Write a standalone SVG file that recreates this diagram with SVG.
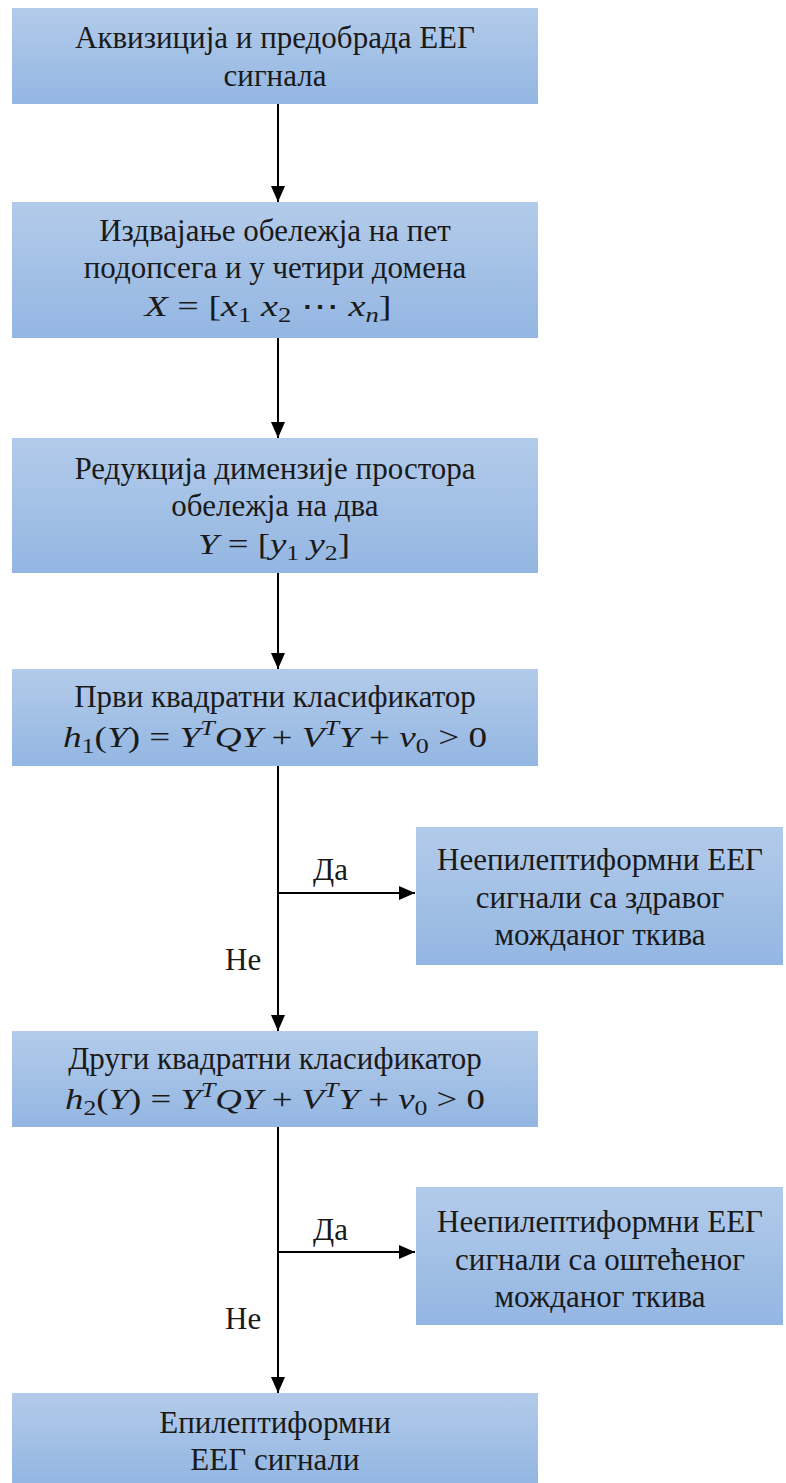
<svg xmlns="http://www.w3.org/2000/svg" width="786" height="1483" viewBox="0 0 786 1483">
<defs>
<linearGradient id="g" x1="0" y1="0" x2="0" y2="1">
<stop offset="0" stop-color="#b3cbea"/>
<stop offset="1" stop-color="#93b6e2"/>
</linearGradient>
<marker id="ah" viewBox="0 0 16 14" refX="16" refY="7" markerWidth="16" markerHeight="14" markerUnits="userSpaceOnUse" orient="auto">
<path d="M0,0 L16,7 L0,14 z" fill="#000"/>
</marker>
<style>
.nodebox{fill:url(#g);}
.nodetext{font-size:31px;fill:#1a1a1a;text-anchor:middle;}
.mathtext{font-size:30px;fill:#1a1a1a;text-anchor:middle;}
.ital{font-style:italic;}
.subsc{font-size:21px;}
.edgelabel{font-size:31px;fill:#1a1a1a;}
.edgeline{stroke:#000;stroke-width:2;fill:none;}
</style>
</defs>
<g id="connectors">
<line class="edgeline" x1="278" y1="104" x2="278" y2="202" marker-end="url(#ah)"/>
<line class="edgeline" x1="278" y1="338" x2="278" y2="438" marker-end="url(#ah)"/>
<line class="edgeline" x1="278" y1="573" x2="278" y2="669" marker-end="url(#ah)"/>
<line class="edgeline" x1="278" y1="766" x2="278" y2="1031" marker-end="url(#ah)"/>
<line class="edgeline" x1="278" y1="893" x2="415" y2="893" marker-end="url(#ah)"/>
<line class="edgeline" x1="278" y1="1127" x2="278" y2="1393" marker-end="url(#ah)"/>
<line class="edgeline" x1="278" y1="1252" x2="415" y2="1252" marker-end="url(#ah)"/>
<text class="edgelabel" style="font-family:'Liberation Serif',serif" x="313" y="880">Да</text>
<text class="edgelabel" style="font-family:'Liberation Serif',serif" x="225" y="970">Не</text>
<text class="edgelabel" style="font-family:'Liberation Serif',serif" x="313" y="1240">Да</text>
<text class="edgelabel" style="font-family:'Liberation Serif',serif" x="225" y="1329">Не</text>
</g>
<g id="n1">
<rect class="nodebox" x="12" y="8" width="526" height="96"/>
<text class="nodetext" style="font-family:'Liberation Serif',serif" x="275" y="48">Аквизиција и предобрада ЕЕГ</text>
<text class="nodetext" style="font-family:'Liberation Serif',serif" x="275" y="86">сигнала</text>
</g>
<g id="n2">
<rect class="nodebox" x="12" y="202" width="526" height="136"/>
<text class="nodetext" style="font-family:'Liberation Serif',serif" x="275" y="241">Издвајање обележја на пет</text>
<text class="nodetext" style="font-family:'Liberation Serif',serif" x="275" y="278">подопсега и у четири домена</text>
<text class="mathtext" style="font-family:'Liberation Serif',serif" x="268" y="316" textLength="247" lengthAdjust="spacingAndGlyphs"><tspan class="ital">X</tspan> = [<tspan class="ital">x</tspan><tspan class="subsc" dy="6">1</tspan><tspan dy="-6"> </tspan><tspan class="ital">x</tspan><tspan class="subsc" dy="6">2</tspan><tspan dy="-6"> ⋯ </tspan><tspan class="ital">x</tspan><tspan class="subsc ital" dy="6">n</tspan><tspan dy="-6">]</tspan></text>
</g>
<g id="n3">
<rect class="nodebox" x="12" y="438" width="526" height="135"/>
<text class="nodetext" style="font-family:'Liberation Serif',serif" x="275" y="479">Редукција димензије простора</text>
<text class="nodetext" style="font-family:'Liberation Serif',serif" x="275" y="516">обележја на два</text>
<text class="mathtext" style="font-family:'Liberation Serif',serif" x="274" y="554" textLength="152" lengthAdjust="spacingAndGlyphs"><tspan class="ital">Y</tspan> = [<tspan class="ital">y</tspan><tspan class="subsc" dy="6">1</tspan><tspan dy="-6"> </tspan><tspan class="ital">y</tspan><tspan class="subsc" dy="6">2</tspan><tspan dy="-6">]</tspan></text>
</g>
<g id="n4">
<rect class="nodebox" x="12" y="669" width="526" height="97"/>
<text class="nodetext" style="font-family:'Liberation Serif',serif" x="275" y="707">Први квадратни класификатор</text>
<text class="mathtext" style="font-family:'Liberation Serif',serif" x="275" y="747" textLength="424" lengthAdjust="spacingAndGlyphs"><tspan class="ital">h</tspan><tspan class="subsc" dy="6">1</tspan><tspan dy="-6">(</tspan><tspan class="ital">Y</tspan>) = <tspan class="ital">Y</tspan><tspan class="subsc ital" dy="-12">T</tspan><tspan class="ital" dy="12">QY</tspan> + <tspan class="ital">V</tspan><tspan class="subsc ital" dy="-12">T</tspan><tspan class="ital" dy="12">Y</tspan> + <tspan class="ital">v</tspan><tspan class="subsc" dy="6">0</tspan><tspan dy="-6"> &gt; 0</tspan></text>
</g>
<g id="n5">
<rect class="nodebox" x="416" y="827" width="367" height="138"/>
<text class="nodetext" style="font-family:'Liberation Serif',serif" x="600" y="870">Неепилептиформни ЕЕГ</text>
<text class="nodetext" style="font-family:'Liberation Serif',serif" x="600" y="908">сигнали са здравог</text>
<text class="nodetext" style="font-family:'Liberation Serif',serif" x="600" y="945">можданог ткива</text>
</g>
<g id="n6">
<rect class="nodebox" x="12" y="1031" width="526" height="96"/>
<text class="nodetext" style="font-family:'Liberation Serif',serif" x="275" y="1069">Други квадратни класификатор</text>
<text class="mathtext" style="font-family:'Liberation Serif',serif" x="275" y="1109" textLength="420" lengthAdjust="spacingAndGlyphs"><tspan class="ital">h</tspan><tspan class="subsc" dy="6">2</tspan><tspan dy="-6">(</tspan><tspan class="ital">Y</tspan>) = <tspan class="ital">Y</tspan><tspan class="subsc ital" dy="-12">T</tspan><tspan class="ital" dy="12">QY</tspan> + <tspan class="ital">V</tspan><tspan class="subsc ital" dy="-12">T</tspan><tspan class="ital" dy="12">Y</tspan> + <tspan class="ital">v</tspan><tspan class="subsc" dy="6">0</tspan><tspan dy="-6"> &gt; 0</tspan></text>
</g>
<g id="n7">
<rect class="nodebox" x="416" y="1187" width="367" height="138"/>
<text class="nodetext" style="font-family:'Liberation Serif',serif" x="600" y="1232">Неепилептиформни ЕЕГ</text>
<text class="nodetext" style="font-family:'Liberation Serif',serif" x="600" y="1270">сигнали са оштећеног</text>
<text class="nodetext" style="font-family:'Liberation Serif',serif" x="600" y="1307">можданог ткива</text>
</g>
<g id="n8">
<rect class="nodebox" x="12" y="1393" width="526" height="90"/>
<text class="nodetext" style="font-family:'Liberation Serif',serif" x="275" y="1433">Епилептиформни</text>
<text class="nodetext" style="font-family:'Liberation Serif',serif" x="275" y="1470">ЕЕГ сигнали</text>
</g>
</svg>
